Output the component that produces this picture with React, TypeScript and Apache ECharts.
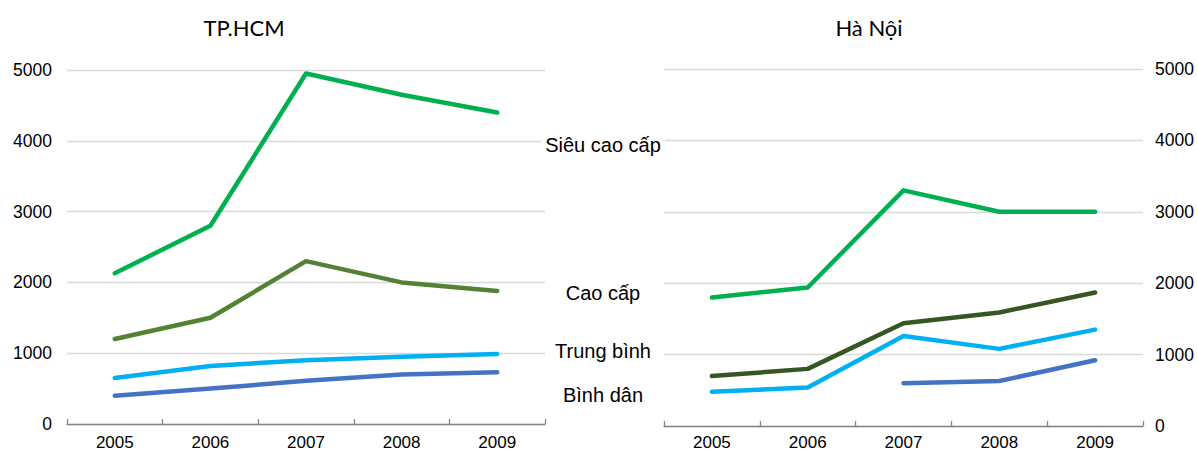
import React, { useEffect, useRef } from "react";
import * as echarts from "echarts";

const years = ["2005", "2006", "2007", "2008", "2009"];

const seriesNames = ["Siêu cao cấp", "Cao cấp", "Trung bình", "Bình dân"];

// TP.HCM
const hcmSieuCaoCap = [2130, 2800, 4950, 4650, 4400];
const hcmCaoCap = [1200, 1500, 2300, 2000, 1880];
const hcmTrungBinh = [650, 820, 900, 950, 990];
const hcmBinhDan = [400, 500, 610, 700, 730];

// Hà Nội
const hnSieuCaoCap = [1800, 1940, 3300, 3000, 3000];
const hnCaoCap = [700, 800, 1440, 1590, 1870];
const hnTrungBinh = [480, 540, 1260, 1080, 1350];
const hnBinhDan = [null, null, 600, 630, 920];

const titles = ["TP.HCM", "Hà Nội"];

const TICK_FONT = "Liberation Sans";

export default function App() {
  const ref = useRef<HTMLDivElement>(null);

  useEffect(() => {
    if (!ref.current) return;
    const chart = echarts.init(ref.current, undefined, { renderer: "svg" });

    const xAxisCommon = {
      type: "category",
      data: years,
      boundaryGap: true,
      axisLine: { show: true, lineStyle: { color: "#868686", width: 1.3 } },
      axisTick: { show: true, inside: true, length: 5, lineStyle: { color: "#868686", width: 1.3 } },
      splitLine: { show: false },
    };
    const yAxisCommon = {
      type: "value",
      min: 0,
      max: 5000,
      interval: 1000,
      axisLine: { show: false },
      axisTick: { show: false },
      splitLine: { show: true, lineStyle: { color: "#d9d9d9", width: 1.3 } },
    };
    const fmt = (v: number) => String(v);

    const mk = (name: string, data: (number | null)[], color: string, idx: number) => ({
      type: "line",
      name,
      data,
      xAxisIndex: idx,
      yAxisIndex: idx,
      showSymbol: false,
      symbol: "none",
      connectNulls: false,
      lineStyle: { color, width: 4.5, cap: "round", join: "round" },
      itemStyle: { color },
      z: 3,
    });

    const labelPos = [145, 293, 351, 395];

    chart.setOption({
      animation: false,
      backgroundColor: "#ffffff",
      grid: [
        { left: 67, top: 70, width: 478, height: 354, outerBoundsMode: "none", containLabel: false },
        { left: 664, top: 69, width: 479, height: 357, outerBoundsMode: "none", containLabel: false },
      ],
      xAxis: [
        {
          ...xAxisCommon,
          gridIndex: 0,
          axisLabel: { color: "#000", fontSize: 17, lineHeight: 18, fontFamily: TICK_FONT, margin: 9 },
        },
        {
          ...xAxisCommon,
          gridIndex: 1,
          axisLabel: { color: "#000", fontSize: 17, lineHeight: 18, fontFamily: TICK_FONT, margin: 7 },
        },
      ],
      yAxis: [
        {
          ...yAxisCommon,
          gridIndex: 0,
          position: "left",
          axisLabel: { color: "#000", fontSize: 17.5, fontFamily: TICK_FONT, margin: 15, formatter: fmt },
        },
        {
          ...yAxisCommon,
          gridIndex: 1,
          position: "right",
          axisLabel: { color: "#000", fontSize: 17.5, fontFamily: TICK_FONT, margin: 12, formatter: fmt },
        },
      ],
      series: [
        mk(seriesNames[0], hcmSieuCaoCap, "#00b050", 0),
        mk(seriesNames[1], hcmCaoCap, "#548235", 0),
        mk(seriesNames[2], hcmTrungBinh, "#00b0f0", 0),
        mk(seriesNames[3], hcmBinhDan, "#4472c4", 0),
        mk(seriesNames[0], hnSieuCaoCap, "#00b050", 1),
        mk(seriesNames[1], hnCaoCap, "#375623", 1),
        mk(seriesNames[2], hnTrungBinh, "#00b0f0", 1),
        mk(seriesNames[3], hnBinhDan, "#4472c4", 1),
      ],
      graphic: [
        {
          type: "text",
          x: 244,
          y: 27,
          style: {
            text: titles[0],
            fontSize: 22,
            fontFamily: "Lato",
            fill: "#000",
            align: "center",
            verticalAlign: "middle",
          },
        },
        {
          type: "text",
          x: 869,
          y: 27,
          style: {
            text: titles[1],
            fontSize: 22,
            fontFamily: "Lato",
            fill: "#000",
            align: "center",
            verticalAlign: "middle",
          },
        },
        ...seriesNames.map((n, i) => ({
          type: "text",
          x: 603,
          y: labelPos[i],
          z: 10,
          style: {
            text: n,
            fontSize: 20,
            fontFamily: TICK_FONT,
            fill: "#000",
            align: "center",
            verticalAlign: "middle",
            backgroundColor: "#fff",
            padding: [2, 4],
          },
        })),
      ],
    });

    return () => chart.dispose();
  }, []);

  return (
    <div
      ref={ref}
      style={{ position: "fixed", left: 0, top: 0, width: 1197, height: 452, background: "#fff" }}
    />
  );
}
